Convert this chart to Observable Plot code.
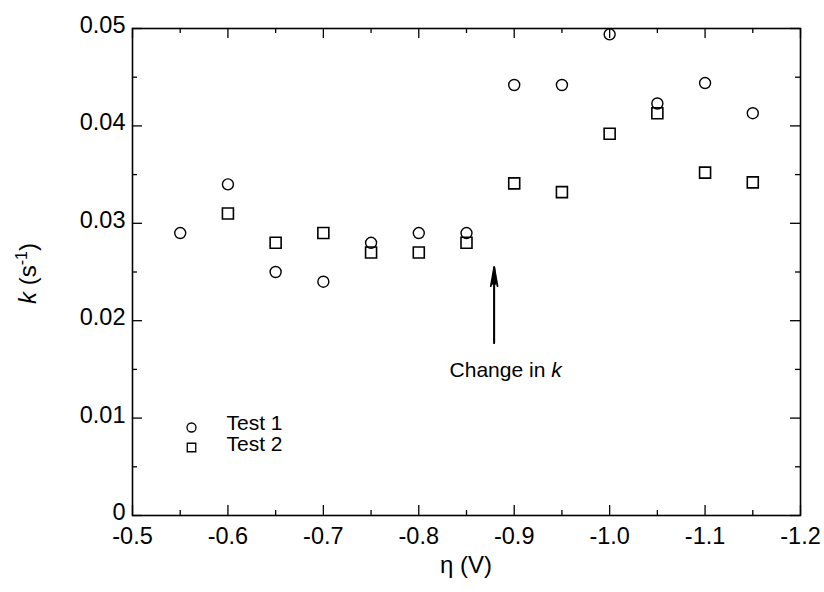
<!DOCTYPE html>
<html><head><meta charset="utf-8">
<script src="https://cdn.jsdelivr.net/npm/d3@7"></script>
<script src="https://cdn.jsdelivr.net/npm/@observablehq/plot@0.6"></script>
<style>body{margin:0;background:#fff}</style>
</head><body><div id="chart"></div>
<script>
// Data
const eta1 = [-0.55, -0.6, -0.65, -0.7, -0.75, -0.8, -0.85, -0.9, -0.95, -1.0, -1.05, -1.1, -1.15];
const test1 = [0.029, 0.034, 0.025, 0.024, 0.028, 0.029, 0.029, 0.0442, 0.0442, 0.0494, 0.0423, 0.0444, 0.0413];
const eta2 = [-0.6, -0.65, -0.7, -0.75, -0.8, -0.85, -0.9, -0.95, -1.0, -1.05, -1.1, -1.15];
const test2 = [0.031, 0.028, 0.029, 0.027, 0.027, 0.028, 0.0341, 0.0332, 0.0392, 0.0413, 0.0352, 0.0342];
const xMajor = [-0.5, -0.6, -0.7, -0.8, -0.9, -1.0, -1.1, -1.2];
const xMinor = [-0.55, -0.65, -0.75, -0.85, -0.95, -1.05, -1.15];
const yMajor = [0, 0.01, 0.02, 0.03, 0.04, 0.05];
const yMinor = [0.005, 0.015, 0.025, 0.035, 0.045];
const arrowData = [{x1: -0.879, y1: 0.0177, x2: -0.879, y2: 0.0255}];
const noteData = [{x: -0.891, y: 0.0149, label: "Change in "}];
const legendLabels = ["Test 1", "Test 2"];

const W = 824, H = 592, mT = 28, mB = 77, mL = 132, mR = 24;
const ph = H - mT - mB, pw = W - mL - mR;
const font = "'Liberation Sans', Arial, Helvetica, sans-serif";

const d1 = eta1.map((x, i) => ({x, y: test1[i]}));
const d2 = eta2.map((x, i) => ({x, y: test2[i]}));

const plot = Plot.plot({
  width: W, height: H,
  marginTop: mT, marginBottom: mB, marginLeft: mL, marginRight: mR,
  style: {fontFamily: font, background: "#fff", color: "#000"},
  x: {domain: [-0.5, -1.2]},
  y: {domain: [0, 0.05]},
  marks: [
    Plot.axisX(xMajor, {tickSize: 0, tickPadding: 12, fontSize: 23.5, tickFormat: d => d.toFixed(1), label: null}),
    Plot.axisY(yMajor, {tickSize: 0, tickPadding: 7, fontSize: 23.5, dy: -3, tickFormat: d => d === 0 ? "0" : d.toFixed(2), label: null}),
    // inward ticks
    Plot.tickX(xMajor, {x: d => d, insetTop: ph - 10, stroke: "#000", strokeWidth: 1.3}),
    Plot.tickX(xMajor, {x: d => d, insetBottom: ph - 10, stroke: "#000", strokeWidth: 1.3}),
    Plot.tickX(xMinor, {x: d => d, insetTop: ph - 5, stroke: "#000", strokeWidth: 1.3}),
    Plot.tickX(xMinor, {x: d => d, insetBottom: ph - 5, stroke: "#000", strokeWidth: 1.3}),
    Plot.tickY(yMajor, {y: d => d, insetRight: pw - 10, stroke: "#000", strokeWidth: 1.3}),
    Plot.tickY(yMajor, {y: d => d, insetLeft: pw - 10, stroke: "#000", strokeWidth: 1.3}),
    Plot.tickY(yMinor, {y: d => d, insetRight: pw - 5, stroke: "#000", strokeWidth: 1.3}),
    Plot.tickY(yMinor, {y: d => d, insetLeft: pw - 5, stroke: "#000", strokeWidth: 1.3}),
    Plot.frame({stroke: "#000", strokeWidth: 1.6}),
    Plot.dot(d2, {x: "x", y: "y", symbol: "square", r: 6.2, stroke: "#000", strokeWidth: 1.6, fill: "none"}),
    Plot.dot(d1, {x: "x", y: "y", symbol: "circle", r: 5.5, stroke: "#000", strokeWidth: 1.4, fill: "none"}),
    Plot.arrow(arrowData, {x1: "x1", y1: "y1", x2: "x2", y2: "y2", stroke: "#000", strokeWidth: 1.8, headLength: 16, headAngle: 20}),
    Plot.arrow(arrowData, {x1: "x1", y1: "y1", x2: "x2", y2: "y2", stroke: "#000", strokeWidth: 1.8, headLength: 14, headAngle: 10}),
    // legend
    Plot.dot([legendLabels[0]], {frameAnchor: "bottom-left", dx: 59, dy: -88, symbol: "circle", r: 4.5, stroke: "#000", strokeWidth: 1.3, fill: "none"}),
    Plot.dot([legendLabels[1]], {frameAnchor: "bottom-left", dx: 59, dy: -68, symbol: "square", r: 4.8, stroke: "#000", strokeWidth: 1.3, fill: "none"}),
    Plot.text([legendLabels[0]], {text: d => d, frameAnchor: "bottom-left", dx: 94, dy: -86, textAnchor: "start", fontSize: 21, fill: "#000"}),
    Plot.text([legendLabels[1]], {text: d => d, frameAnchor: "bottom-left", dx: 94, dy: -65, textAnchor: "start", fontSize: 21, fill: "#000"}),
    Plot.text(noteData, {x: "x", y: "y", text: "label", fontSize: 21, fill: "#000", className: "note"})
  ]
});

document.getElementById("chart").appendChild(plot);
const svg = d3.select(plot);
// italic k for annotation
svg.selectAll(".note text").each(function() {
  d3.select(this).append("tspan").attr("font-style", "italic").text("k");
});
// axis labels
svg.append("text")
  .attr("x", mL + pw / 2).attr("y", 573)
  .attr("text-anchor", "middle").attr("font-size", 24).attr("font-family", font).attr("fill", "#000")
  .text("η (V)");
const yl = svg.append("text")
  .attr("transform", `translate(36,${mT + ph / 2 + 2}) rotate(-90)`)
  .attr("text-anchor", "middle").attr("font-size", 24).attr("font-family", font).attr("fill", "#000");
yl.append("tspan").attr("font-style", "italic").text("k");
yl.append("tspan").text(" (s");
yl.append("tspan").attr("font-size", 16).attr("dy", -9).text("-1");
yl.append("tspan").attr("dy", 9).text(")");
</script>
</body></html>
